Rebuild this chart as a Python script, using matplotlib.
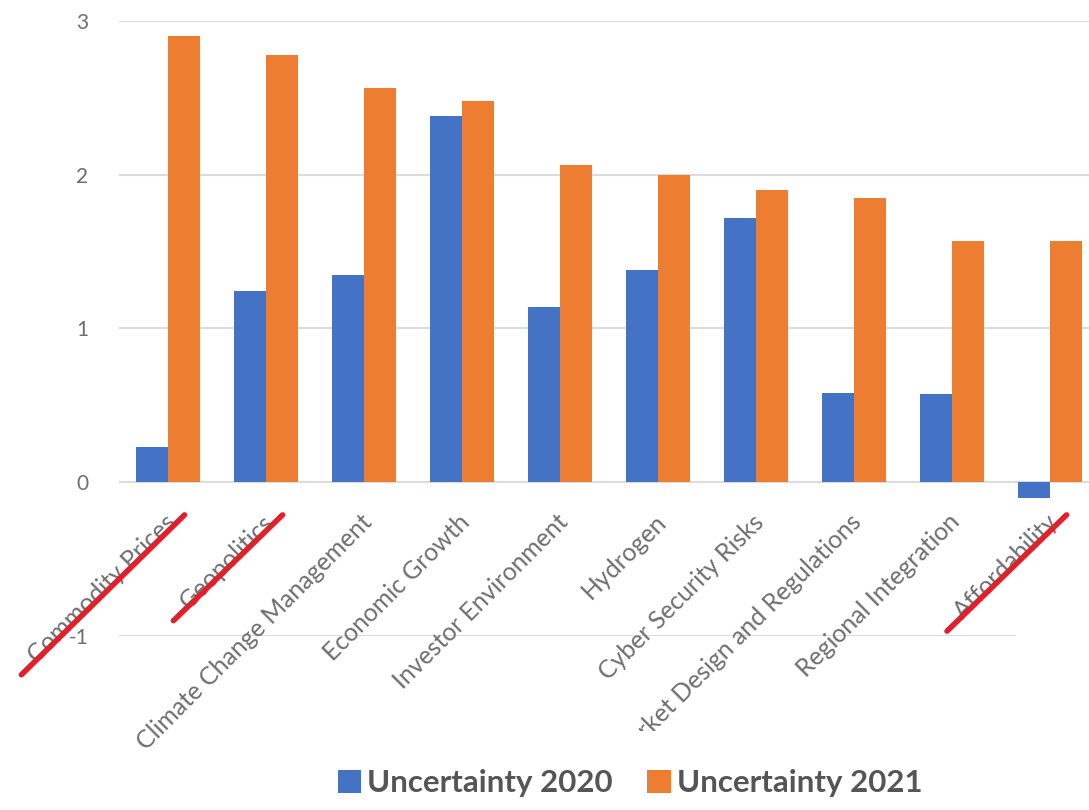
import numpy as np
import matplotlib as mpl
mpl.use('Agg')
import matplotlib.pyplot as plt
from matplotlib.patches import Patch, Rectangle
from matplotlib.lines import Line2D

#chart data
aCategory = ['Commodity Prices', 'Geopolitics', 'Climate Change Management',
             'Economic Growth', 'Investor Environment', 'Hydrogen',
             'Cyber Security Risks', 'Market Design and Regulations',
             'Regional Integration', 'Affordability']
aUncertainty_2020 = [0.23, 1.24, 1.35, 2.38, 1.14, 1.38, 1.72, 0.58, 0.57, -0.10]
aUncertainty_2021 = [2.90, 2.78, 2.56, 2.48, 2.06, 2.00, 1.90, 1.85, 1.57, 1.57]
aYtick = [-1, 0, 1, 2, 3]
aStruck = ['Commodity Prices', 'Geopolitics', 'Affordability']

sColor_2020 = '#4472C4'
sColor_2021 = '#ED7D31'
sColor_text = '#6e6e6e'

plt.rcParams['font.family'] = ['Lato', 'DejaVu Sans']

fig = plt.figure(figsize=(10.89, 8.10), dpi=100)
ax = fig.add_axes([119 / 1089, 1 - 636 / 810, 970 / 1089, (636 - 20.7) / 810])

nCategory = len(aCategory)
x = np.arange(nCategory)
dWidth = 32 / 98

ax.bar(x - dWidth / 2, aUncertainty_2020, width=dWidth, color=sColor_2020, zorder=3)
ax.bar(x + dWidth / 2, aUncertainty_2021, width=dWidth, color=sColor_2021, zorder=3)

ax.set_xlim(-0.5, -0.5 + 970 / 98)
ax.set_ylim(-1, 3)
ax.set_yticks(aYtick)
ax.set_yticklabels([str(i) for i in aYtick])
ax.yaxis.grid(True, color='#dcdcdc', linewidth=1.5, zorder=0)
ax.tick_params(axis='y', length=0, pad=22, labelsize=15, labelcolor=sColor_text)
ax.set_xticks([])
for s in ax.spines.values():
    s.set_visible(False)

#category labels hang off the zero line, not the axes bottom
aLabel = []
for i, sName in enumerate(aCategory):
    t = ax.annotate(sName, xy=(i, 0), xytext=(4, -36), textcoords='offset pixels',
                    rotation=45, rotation_mode='anchor', ha='right', va='center',
                    fontsize=17.8, color=sColor_text, annotation_clip=False)
    aLabel.append(t)

#white patches from the cropped screenshot
fig.add_artist(Rectangle((450 / 1089, 1 - 765 / 810), 639 / 1089, 34 / 810,
                         transform=fig.transFigure, facecolor='white', edgecolor='none', zorder=5))
fig.add_artist(Rectangle((1016 / 1089, 1 - 760 / 810), 73 / 1089, 160 / 810,
                         transform=fig.transFigure, facecolor='white', edgecolor='none', zorder=5))

aHandle = [Patch(facecolor=sColor_2020, label='Uncertainty 2020'),
           Patch(facecolor=sColor_2021, label='Uncertainty 2021')]
leg = fig.legend(handles=aHandle, loc='center', bbox_to_anchor=(630 / 1089, 1 - 783 / 810),
                 ncol=2, frameon=False, handlelength=0.75, handleheight=0.75,
                 handletextpad=0.2, columnspacing=1.1,
                 prop={'weight': 'bold', 'size': 22.5})
for t in leg.get_texts():
    t.set_color('#555555')

#red strike lines along the struck labels
fig.canvas.draw()
pRenderer = fig.canvas.get_renderer()
for t in aLabel:
    if t.get_text() in aStruck:
        bb = t.get_window_extent(pRenderer).transformed(fig.transFigure.inverted())
        fig.add_artist(Line2D([bb.x0 - 0.002, bb.x1 + 0.004], [bb.y0 - 0.010, bb.y1 - 0.006],
                              transform=fig.transFigure, color='#e0202a', linewidth=4,
                              solid_capstyle='round', zorder=6))

fig.savefig('out.png', dpi=100)
